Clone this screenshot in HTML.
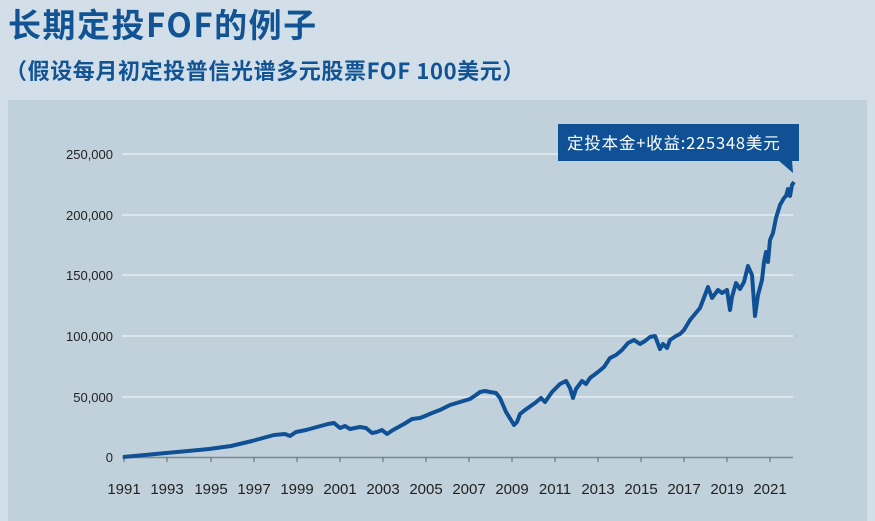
<!DOCTYPE html>
<html><head><meta charset="utf-8"><style>
html,body{margin:0;padding:0;width:875px;height:521px;overflow:hidden;background:#d3dfe8;}
body{font-family:"Liberation Sans","Noto Sans CJK SC",sans-serif;}
</style></head><body>
<svg width="875" height="521" xmlns="http://www.w3.org/2000/svg" style="position:absolute;left:0;top:0">
<rect width="875" height="521" fill="#d3dfe8"/>
<text x="8" y="37" font-family="'Noto Sans CJK SC',sans-serif" font-weight="bold" font-size="33" letter-spacing="1.5" fill="#125394">长期定投FOF的例子</text>
<text x="5" y="79" font-family="'Noto Sans CJK SC',sans-serif" font-weight="bold" font-size="22" letter-spacing="0.6" fill="#125394">（假设每月初定投普信光谱多元股票FOF 100美元）</text>
<rect x="8" y="100" width="859" height="421" fill="#c0d1dc"/>
<g stroke="#e3ecf2" stroke-width="1.5">
<line x1="122" y1="154" x2="793" y2="154"/>
<line x1="122" y1="215" x2="793" y2="215"/>
<line x1="122" y1="275" x2="793" y2="275"/>
<line x1="122" y1="336" x2="793" y2="336"/>
<line x1="122" y1="397" x2="793" y2="397"/>
</g>
<line x1="122" y1="457.5" x2="793" y2="457.5" stroke="#7d8a93" stroke-width="1.5"/>
<g stroke="#5a656d" stroke-width="1">
<line x1="124" y1="457" x2="124" y2="462"/><line x1="167" y1="457" x2="167" y2="462"/><line x1="211" y1="457" x2="211" y2="462"/><line x1="254" y1="457" x2="254" y2="462"/><line x1="297" y1="457" x2="297" y2="462"/><line x1="340" y1="457" x2="340" y2="462"/><line x1="383" y1="457" x2="383" y2="462"/><line x1="426" y1="457" x2="426" y2="462"/><line x1="469" y1="457" x2="469" y2="462"/><line x1="512" y1="457" x2="512" y2="462"/><line x1="555" y1="457" x2="555" y2="462"/><line x1="598" y1="457" x2="598" y2="462"/><line x1="641" y1="457" x2="641" y2="462"/><line x1="684" y1="457" x2="684" y2="462"/><line x1="727" y1="457" x2="727" y2="462"/><line x1="770" y1="457" x2="770" y2="462"/>
</g>
<g font-size="13" fill="#222" text-anchor="end">
<text x="113" y="159">250,000</text><text x="113" y="220">200,000</text><text x="113" y="280">150,000</text><text x="113" y="341">100,000</text><text x="113" y="402">50,000</text><text x="113" y="462">0</text>
</g>
<g font-size="15" fill="#222" text-anchor="middle">
<text x="124" y="494">1991</text><text x="167" y="494">1993</text><text x="211" y="494">1995</text><text x="254" y="494">1997</text><text x="297" y="494">1999</text><text x="340" y="494">2001</text><text x="383" y="494">2003</text><text x="426" y="494">2005</text><text x="469" y="494">2007</text><text x="512" y="494">2009</text><text x="555" y="494">2011</text><text x="598" y="494">2013</text><text x="641" y="494">2015</text><text x="684" y="494">2017</text><text x="727" y="494">2019</text><text x="770" y="494">2021</text>
</g>
<polyline fill="none" stroke="#0f5194" stroke-width="4" stroke-linejoin="round" points="123,457 145,455 166,453 188,451 209,449 231,446 252,441 263,438 274,435 285,434 290,436 296,432 306,430 317,427 328,424 334,423 340,428 345,426 350,429 355,428 360,427 366,428 372,433 377,432 382,430 387,434 393,430 404,424 412,419 420,418 425,416 432,413 440,410 450,405 460,402 470,399 476,395 480,392 485,391 490,392 496,393 500,398 506,412 511,420 514,425 517,422 520,414 525,410 535,403 541,398 545,402 552,392 560,384 566,381 570,388 573,398 576,389 582,381 586,384 590,378 598,372 604,367 610,358 616,355 622,350 628,343 634,340 640,344 645,341 650,337 655,336 660,349 663,344 667,348 670,340 676,336 680,334 684,330 690,320 700,308 705,295 708,287 712,298 718,290 722,293 727,290 730,310 732,297 736,283 740,289 744,282 748,266 752,275 755,316 758,295 762,280 764,262 766,252 768,262 770,240 773,233 776,218 780,205 784,198 786,196 788,189 790,196 792,185 794,182"/>
<rect x="558" y="124" width="241" height="37" fill="#0f5194"/>
<polygon points="778,160 792,160 793,173" fill="#0f5194"/>
<text x="567" y="149" font-size="16.5" letter-spacing="0.8" fill="#fff" font-family="'Noto Sans CJK SC',sans-serif">定投本金+收益:225348美元</text>
</svg>
</body></html>
